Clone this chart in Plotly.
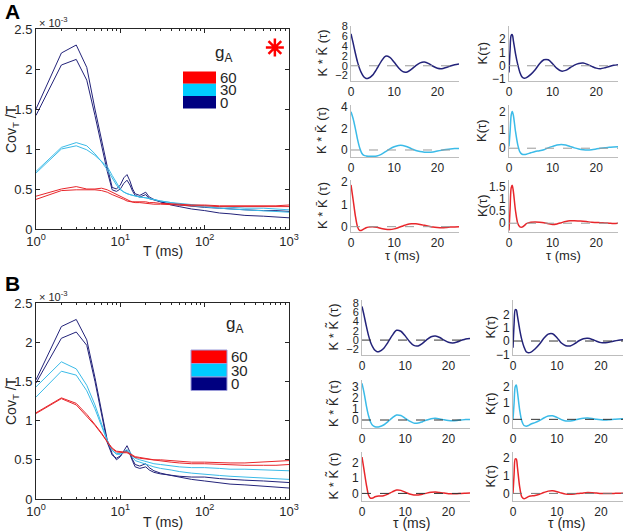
import plotly.graph_objects as go

W, H = 626, 532

# ---------------- data: main panels (Cov_T/T in units of 1e-3) ----------------
T = [1, 2, 3, 4, 5, 6, 7, 8, 9, 10, 11, 12, 13, 14, 15, 17, 20, 22, 25, 30,
     40, 50, 70, 100, 150, 200, 300, 500, 700, 1000]

A_navy_1 = [1.50, 2.20, 2.30, 2.02, 1.50, 1.10, 0.78, 0.52, 0.50, 0.55, 0.64, 0.68, 0.60, 0.50, 0.44,
            0.42, 0.46, 0.40, 0.37, 0.34, 0.30, 0.28, 0.25, 0.23, 0.20, 0.19, 0.17, 0.16, 0.15, 0.14]
A_navy_2 = [1.42, 2.05, 2.12, 1.86, 1.42, 1.02, 0.72, 0.49, 0.47, 0.50, 0.57, 0.61, 0.55, 0.47, 0.42,
            0.40, 0.43, 0.38, 0.36, 0.34, 0.31, 0.30, 0.28, 0.27, 0.26, 0.25, 0.24, 0.23, 0.23, 0.22]
A_cyan_1 = [0.72, 1.02, 1.08, 1.04, 0.94, 0.84, 0.74, 0.63, 0.55, 0.49, 0.46, 0.44, 0.43, 0.42, 0.41,
            0.40, 0.39, 0.38, 0.37, 0.35, 0.33, 0.31, 0.29, 0.28, 0.26, 0.25, 0.24, 0.23, 0.22, 0.21]
A_cyan_2 = [0.70, 1.00, 1.04, 0.99, 0.92, 0.85, 0.78, 0.67, 0.57, 0.50, 0.46, 0.44, 0.43, 0.42, 0.41,
            0.40, 0.39, 0.38, 0.37, 0.35, 0.33, 0.32, 0.30, 0.29, 0.28, 0.27, 0.26, 0.26, 0.25, 0.24]
A_red_1 = [0.41, 0.50, 0.53, 0.50, 0.50, 0.51, 0.49, 0.46, 0.43, 0.40, 0.38, 0.36, 0.35, 0.34, 0.34,
           0.34, 0.34, 0.33, 0.33, 0.32, 0.31, 0.31, 0.30, 0.30, 0.29, 0.29, 0.29, 0.29, 0.29, 0.30]
A_red_2 = [0.37, 0.48, 0.49, 0.49, 0.49, 0.48, 0.46, 0.43, 0.41, 0.39, 0.37, 0.35, 0.34, 0.33, 0.33,
           0.33, 0.32, 0.32, 0.31, 0.31, 0.30, 0.30, 0.29, 0.29, 0.28, 0.28, 0.28, 0.28, 0.28, 0.28]

B_navy_1 = [1.52, 2.20, 2.29, 2.03, 1.55, 1.10, 0.75, 0.58, 0.50, 0.54, 0.62, 0.68, 0.60, 0.50, 0.44,
            0.42, 0.45, 0.40, 0.36, 0.33, 0.30, 0.28, 0.25, 0.23, 0.21, 0.19, 0.18, 0.16, 0.15, 0.14]
B_navy_2 = [1.48, 2.05, 2.13, 1.96, 1.50, 1.05, 0.72, 0.56, 0.52, 0.55, 0.60, 0.62, 0.57, 0.48, 0.41,
            0.39, 0.41, 0.37, 0.34, 0.32, 0.30, 0.29, 0.28, 0.28, 0.26, 0.25, 0.24, 0.23, 0.22, 0.21]
B_cyan_1 = [1.43, 1.75, 1.66, 1.45, 1.20, 0.95, 0.75, 0.62, 0.58, 0.58, 0.60, 0.63, 0.60, 0.55, 0.52,
            0.50, 0.48, 0.47, 0.45, 0.44, 0.42, 0.41, 0.40, 0.40, 0.39, 0.38, 0.38, 0.37, 0.36, 0.36]
B_cyan_2 = [1.30, 1.63, 1.58, 1.38, 1.15, 0.93, 0.74, 0.62, 0.57, 0.57, 0.59, 0.61, 0.58, 0.53, 0.49,
            0.47, 0.45, 0.43, 0.41, 0.39, 0.37, 0.35, 0.33, 0.32, 0.30, 0.29, 0.28, 0.27, 0.26, 0.25]
B_red_1 = [1.10, 1.29, 1.22, 1.08, 0.95, 0.84, 0.73, 0.65, 0.61, 0.60, 0.60, 0.60, 0.58, 0.56, 0.54,
           0.53, 0.52, 0.51, 0.50, 0.50, 0.49, 0.48, 0.47, 0.47, 0.46, 0.46, 0.46, 0.47, 0.48, 0.49]
B_red_2 = [1.09, 1.28, 1.20, 1.06, 0.94, 0.83, 0.72, 0.64, 0.60, 0.59, 0.59, 0.59, 0.57, 0.55, 0.53,
           0.52, 0.51, 0.50, 0.49, 0.48, 0.47, 0.46, 0.45, 0.45, 0.44, 0.44, 0.43, 0.43, 0.43, 0.44]

# ---------------- data: small panels ----------------
tau_kk = [0, 0.5, 1, 1.5, 2, 2.5, 3, 3.5, 4, 5, 6, 7, 8, 9, 10, 11, 12, 13, 14, 15,
          16, 17, 18, 19, 20, 21, 22, 23, 24, 25]
tau_k = [0, 0.25, 0.5, 0.75, 1, 1.5, 2, 2.5, 3, 3.5, 4, 5, 6, 7, 8, 9, 10, 11, 12, 13, 14, 15,
         16, 17, 18, 19, 20, 21, 22, 23, 24, 25]

A_kk_navy = [6.5, 4.6, 2.6, 0.8, -0.6, -1.6, -2.3, -2.6, -2.55, -1.9, -0.6, 0.9, 1.95, 1.7, 0.7,
             -0.4, -1.2, -1.25, -0.7, 0.05, 0.6, 0.75, 0.45, -0.1, -0.5, -0.6, -0.35, -0.05, 0.2, 0.35]
A_k_navy = [-0.5, 1.2, 2.3, 2.35, 1.9, 0.9, 0.1, -0.5, -0.85, -0.95, -0.9, -0.65, -0.3, 0.15, 0.45,
            0.45, 0.15, -0.2, -0.4, -0.35, -0.15, 0.05, 0.17, 0.2, 0.1, -0.05, -0.18, -0.22, -0.15,
            -0.05, 0.03, 0.08]
A_kk_cyan = [3.55, 2.9, 2.0, 1.0, 0.2, -0.3, -0.5, -0.55, -0.57, -0.58, -0.55, -0.4, -0.15, 0.1, 0.3,
             0.42, 0.42, 0.3, 0.12, -0.05, -0.15, -0.2, -0.22, -0.18, -0.1, -0.02, 0.05, 0.1, 0.13, 0.13]
A_k_cyan = [0.1, 0.9, 1.8, 2.0, 1.8, 0.9, 0.2, -0.2, -0.33, -0.35, -0.33, -0.25, -0.18, -0.14, -0.08,
            0.02, 0.1, 0.17, 0.2, 0.17, 0.1, 0.02, -0.04, -0.08, -0.1, -0.08, -0.04, 0.0, 0.03, 0.05,
            0.07, 0.08]
A_kk_red = [1.88, 1.2, 0.5, 0.0, -0.17, -0.16, -0.1, -0.05, -0.02, 0.0, -0.03, -0.08, -0.12, -0.13,
            -0.1, -0.04, 0.03, 0.1, 0.13, 0.13, 0.1, 0.06, 0.02, -0.02, -0.04, -0.05, -0.04, -0.02,
            -0.01, 0.0]
A_k_red = [-0.3, 0.6, 1.45, 1.55, 1.3, 0.5, 0.0, -0.15, -0.16, -0.1, -0.02, 0.04, 0.05, 0.04, 0.02,
           -0.02, -0.05, -0.03, 0.02, 0.07, 0.1, 0.1, 0.09, 0.08, 0.06, 0.04, 0.03, 0.02, 0.01, 0.0,
           -0.01, 0.0]

B_kk_navy = [7.2, 5.2, 3.0, 1.0, -0.5, -1.5, -2.2, -2.5, -2.45, -1.8, -0.5, 1.0, 2.1, 1.9, 0.9,
             -0.3, -1.15, -1.25, -0.7, 0.1, 0.7, 0.85, 0.55, 0.0, -0.45, -0.6, -0.4, -0.05, 0.25, 0.35]
B_k_navy = [-0.5, 1.3, 2.35, 2.35, 1.9, 0.9, 0.1, -0.45, -0.8, -0.88, -0.85, -0.6, -0.25, 0.2, 0.52,
            0.55, 0.25, -0.15, -0.35, -0.37, -0.2, 0.02, 0.17, 0.2, 0.12, -0.02, -0.12, -0.13, -0.08,
            0.0, 0.06, 0.1]
B_kk_cyan = [3.3, 2.4, 1.3, 0.4, -0.2, -0.5, -0.6, -0.62, -0.6, -0.45, -0.15, 0.2, 0.45, 0.4, 0.15,
             -0.1, -0.28, -0.28, -0.15, 0.0, 0.12, 0.15, 0.1, 0.02, -0.04, -0.06, -0.04, 0.0, 0.04, 0.05]
B_k_cyan = [0.0, 1.0, 2.0, 2.1, 1.7, 0.6, -0.1, -0.38, -0.42, -0.38, -0.3, -0.2, -0.08, 0.08, 0.2,
            0.22, 0.12, -0.02, -0.1, -0.1, -0.05, 0.02, 0.07, 0.08, 0.05, 0.0, -0.03, -0.04, -0.02,
            0.0, 0.02, 0.03]
B_kk_red = [2.4, 1.5, 0.6, -0.1, -0.32, -0.3, -0.22, -0.18, -0.17, -0.15, -0.05, 0.1, 0.22, 0.2, 0.08,
            -0.04, -0.1, -0.1, -0.05, 0.02, 0.07, 0.09, 0.06, 0.02, -0.02, -0.03, -0.02, 0.0, 0.01, 0.02]
B_k_red = [0.0, 1.1, 1.95, 1.95, 1.5, 0.4, -0.2, -0.3, -0.25, -0.18, -0.15, -0.12, -0.05, 0.05, 0.13,
           0.15, 0.1, 0.02, -0.04, -0.05, -0.03, 0.0, 0.03, 0.05, 0.04, 0.02, 0.0, -0.01, -0.01, 0.0,
           0.01, 0.01]

legend_labels = ["60", "30", "0"]

# ---------------- styling ----------------
NAVY, CYAN, RED = "#23237a", "#3bbbe8", "#e8262b"
LEG = {"60": "#ff0000", "30": "#00ccff", "0": "#000080"}
TXT = "#262626"
FONT = "Liberation Sans, Arial, sans-serif"

fig = go.Figure()
layout = dict(width=W, height=H, autosize=False,
              margin=dict(l=0, r=0, t=0, b=0, pad=0, autoexpand=False),
              paper_bgcolor="white", plot_bgcolor="white", showlegend=False,
              font=dict(family=FONT, color=TXT, size=12))
shapes, annotations = [], []


def dom_x(a, b):
    return [a / W, b / W]


def dom_y(top, bottom):
    return [1 - bottom / H, 1 - top / H]


def px(x):
    return x / W


def py(y):
    return 1 - y / H


def ann(x, y, text, size, **kw):
    d = dict(x=px(x), y=py(y), xref="paper", yref="paper", showarrow=False, text=text,
             xanchor="center", yanchor="middle",
             font=dict(size=size, color=kw.pop("color", TXT)))
    d.update(kw)
    annotations.append(d)


# ---------------- main panels ----------------
minor_vals = [m * 10 ** d for d in range(3) for m in range(2, 10)]


def main_axes(i, top, bottom, series):
    xa = "xaxis" if i == 1 else f"xaxis{i}"
    ya = "yaxis" if i == 1 else f"yaxis{i}"
    sfx = "" if i == 1 else str(i)
    layout[xa] = dict(domain=dom_x(36, 289), anchor=f"y{sfx}", type="log", automargin=False,
                      range=[0, 3], tickvals=[1, 10, 100, 1000],
                      ticktext=["10<sup>0</sup>", "10<sup>1</sup>", "10<sup>2</sup>", "10<sup>3</sup>"],
                      ticks="inside", ticklen=4, tickcolor=TXT, showline=True, linecolor=TXT,
                      linewidth=1, mirror="ticks", showgrid=False, zeroline=False,
                      tickfont=dict(size=13),
                      minor=dict(tickvals=minor_vals, ticks="inside", ticklen=2, tickcolor=TXT))
    layout[ya] = dict(domain=dom_y(top, bottom), anchor=f"x{sfx}", range=[0, 2.5], automargin=False,
                      tickvals=[0, 0.5, 1, 1.5, 2, 2.5], ticktext=["0", "0.5", "1", "1.5", "2", "2.5"],
                      ticks="inside", ticklen=4, tickcolor=TXT, showline=True, linecolor=TXT,
                      linewidth=1, mirror="ticks", showgrid=False, zeroline=False,
                      tickfont=dict(size=13))
    for vals, col in series:
        fig.add_trace(go.Scatter(x=T, y=vals, mode="lines", line=dict(color=col, width=1),
                                 xaxis=f"x{sfx}", yaxis=f"y{sfx}", hoverinfo="skip"))


main_axes(1, 29, 229, [(A_navy_1, NAVY), (A_navy_2, NAVY), (A_cyan_1, CYAN), (A_cyan_2, CYAN),
                       (A_red_2, RED), (A_red_1, RED)])
main_axes(2, 303, 499, [(B_navy_1, NAVY), (B_navy_2, NAVY), (B_cyan_2, CYAN), (B_cyan_1, CYAN),
                        (B_red_1, RED), (B_red_2, RED)])

# red asterisk in panel A
fig.add_trace(go.Scatter(x=[680], y=[2.27], mode="markers", xaxis="x", yaxis="y",
                         marker=dict(symbol="asterisk-open", size=15, color="#ff0000",
                                     line=dict(color="#ff0000", width=2.5)),
                         hoverinfo="skip"))

# main axis labels
for yc, xtitle_y, x10_y in [(129, 251, 22), (401, 522, 296)]:
    ann(12, yc, "Cov<sub>T</sub> /T", 14, textangle=-90)
    ann(163, xtitle_y, "T (ms)", 14)
    ann(37, x10_y, "× 10<sup>-3</sup>", 11, xanchor="left")

ann(3, 12, "<b>A</b>", 21, xanchor="left", color="black")
ann(3, 283, "<b>B</b>", 21, xanchor="left", color="black")


# legend boxes
def legend_block(x0, x1, top, h, gy, border):
    for j, lab in enumerate(legend_labels):
        y0 = top + j * h
        shapes.append(dict(type="rect", xref="paper", yref="paper", x0=px(x0), x1=px(x1),
                           y0=py(y0 + h), y1=py(y0), fillcolor=LEG[lab],
                           line=dict(width=1 if border else 0, color=border or LEG[lab])))
        ann(x1 + 2, y0 + h / 2, lab, 15, xanchor="left")
    ann(x1 + 7, gy, "g<sub>A</sub>", 17)


legend_block(183, 216, 71.5, 12.3, 54, None)
legend_block(191, 227, 350, 13.5, 325, "#9a9ad8")

# ---------------- small panels ----------------
small = [
    (3, 351, 459, 26, 81, [-3.1, 8.1], [-2, 0, 2, 4, 6, 8], tau_kk, A_kk_navy, NAVY, "#999999"),
    (4, 509, 618, 26, 81, [-1.15, 3.0], [-1, 0, 1, 2], tau_k, A_k_navy, NAVY, "#999999"),
    (5, 351, 459, 105, 157, [-0.65, 4.17], [0, 2, 4], tau_kk, A_kk_cyan, CYAN, "#999999"),
    (6, 509, 618, 105, 157, [-0.48, 2.36], [0, 1, 2], tau_k, A_k_cyan, CYAN, "#999999"),
    (7, 351, 459, 180, 232, [-0.24, 2.1], [0, 1, 2], tau_kk, A_kk_red, RED, "#999999"),
    (8, 509, 618, 180, 232, [-0.36, 1.77], [0, 0.5, 1, 1.5], tau_k, A_k_red, RED, "#999999"),
    (9, 362, 470, 300, 355, [-3.2, 8.6], [-2, 0, 2, 4, 6, 8], tau_kk, B_kk_navy, NAVY, "#333333"),
    (10, 513, 623, 300, 355, [-1.05, 3.08], [-1, 0, 1, 2], tau_k, B_k_navy, NAVY, "#333333"),
    (11, 362, 470, 380, 428, [-0.72, 3.6], [0, 1, 2, 3], tau_kk, B_kk_cyan, CYAN, "#333333"),
    (12, 513, 623, 380, 428, [-0.53, 2.41], [0, 1, 2], tau_k, B_k_cyan, CYAN, "#333333"),
    (13, 362, 470, 452, 501, [-0.5, 2.73], [0, 1, 2], tau_kk, B_kk_red, RED, "#333333"),
    (14, 513, 623, 452, 501, [-0.43, 2.35], [0, 1, 2], tau_k, B_k_red, RED, "#777777"),
]

for idx, xl, xr_, top, bot, yr, yt, tau, vals, col, dcol in small:
    yfs = 11 if len(yt) > 4 else 12
    layout[f"xaxis{idx}"] = dict(domain=dom_x(xl, xr_), anchor=f"y{idx}", range=[0, 25],
                                 automargin=False, tickvals=[0, 10, 20], showline=True,
                                 linecolor="#bdbdbd", linewidth=1, ticks="", showgrid=False,
                                 zeroline=False, tickfont=dict(size=12))
    layout[f"yaxis{idx}"] = dict(domain=dom_y(top, bot), anchor=f"x{idx}", range=yr, tickvals=yt,
                                 automargin=False, showline=True, linecolor="#bdbdbd", linewidth=1,
                                 ticks="", showgrid=False, zeroline=False, tickfont=dict(size=yfs))
    shapes.append(dict(type="line", xref=f"x{idx} domain", yref=f"y{idx}", x0=0, x1=1, y0=0, y1=0,
                       line=dict(color=dcol, width=1, dash="dash")))
    fig.add_trace(go.Scatter(x=tau, y=vals, mode="lines",
                             line=dict(color=col, width=1.5, shape="spline", smoothing=0.8),
                             xaxis=f"x{idx}", yaxis=f"y{idx}", hoverinfo="skip"))

# small panel labels
rowsA = [(26, 81), (105, 157), (180, 232)]
rowsB = [(300, 355), (380, 428), (452, 501)]
for t, b in rowsA:
    ann(322, (t + b) / 2, "K * K\u0304 (τ)", 13, textangle=-90)
    ann(482, (t + b) / 2, "K(τ)", 13, textangle=-90)
for t, b in rowsB:
    ann(333, (t + b) / 2, "K * K\u0303 (τ)", 13, textangle=-90)
    ann(490, (t + b) / 2, "K(τ)", 13, textangle=-90)

ann(402, 255, "τ (ms)", 13)
ann(563, 255, "τ (ms)", 13)
ann(411, 523, "τ (ms)", 14)
ann(566, 523, "τ (ms)", 14)

layout["shapes"] = shapes
layout["annotations"] = annotations
fig.update_layout(**layout)
fig.write_html("out.html", config={"displayModeBar": False},
               post_script="document.body.style.margin='0';document.body.style.padding='0';")
